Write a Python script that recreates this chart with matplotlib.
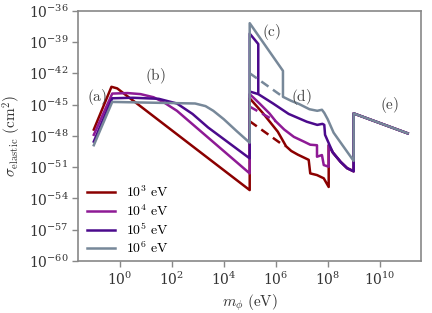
import numpy as np
import matplotlib
matplotlib.use("Agg")
import matplotlib.pyplot as plt

plt.rcParams["mathtext.fontset"] = "cm"
plt.rcParams["font.family"] = "serif"
plt.rcParams["font.serif"] = ["DejaVu Serif"]

# curves, as log10(m_phi / eV) and log10(sigma / cm^2)
labels = [r"$10^{3}\ \mathrm{eV}$", r"$10^{4}\ \mathrm{eV}$",
          r"$10^{5}\ \mathrm{eV}$", r"$10^{6}\ \mathrm{eV}$"]
colors = ["#8b0000", "#8e1a95", "#4b0a8c", "#778899"]

# shared tail above 10^8 eV (hidden under the curves drawn later)
tail_logm = [8.2, 8.5, 8.75, 9.0, 9.0, 11.08]
tail_logs = [-49.6, -50.5, -51.1, -51.4, -45.85, -47.76]

red_logm = [-1.0, -0.32, -0.1, 5.0, 5.0, 5.5, 6.08, 6.4, 6.6, 6.85, 7.27, 7.33,
            7.59, 7.85, 8.04, 8.04]
red_logs = [-47.4, -43.3, -43.45, -53.2, -44.4, -45.8, -47.6, -49.0, -49.45,
            -49.8, -50.3, -51.6, -51.76, -52.07, -52.9, -48.9]

mag_logm = [-1.0, -0.29, 0.3, 0.8, 1.3, 1.7, 2.2, 5.0, 5.0, 5.4, 5.76, 6.0,
            6.33, 6.7, 7.1, 7.33, 7.59, 7.59, 7.78, 7.85, 8.04, 8.04]
mag_logs = [-47.9, -43.95, -43.9, -44.0, -44.3, -44.8, -45.6, -51.6, -44.0,
            -44.95, -45.85, -46.6, -47.4, -48.1, -48.57, -48.85, -48.9, -50.0,
            -49.84, -50.8, -50.96, -48.9]

pur_logm = [-1.0, -0.29, 0.5, 1.5, 2.2, 2.8, 3.4, 5.0, 5.0, 5.33, 5.33, 5.9,
            6.5, 7.2, 7.6, 7.8, 7.87, 7.9]
pur_logs = [-48.55, -44.4, -44.35, -44.45, -44.9, -45.9, -47.2, -50.16, -38.2,
            -39.2, -44.0, -44.9, -45.9, -46.65, -46.95, -46.85, -46.95, -47.9]

gray_logm = [-1.0, -0.29, 2.9, 3.3, 3.6, 4.0, 4.5, 5.0, 5.0, 6.28, 6.28, 6.6,
             6.9, 7.3, 7.6, 7.78, 7.87, 8.0, 8.23, 8.6, 9.0, 9.0, 11.08]
gray_logs = [-48.9, -44.75, -44.9, -45.15, -45.6, -46.4, -47.55, -48.66, -37.2,
             -41.77, -44.26, -44.65, -44.95, -45.45, -45.6, -45.5, -45.8, -46.4,
             -47.7, -49.0, -50.4, -45.85, -47.76]

# dashed pieces just above 10^5 eV
red_dash_logm = [5.0, 6.35]
red_dash_logs = [-46.6, -49.0]
mag_dash_logm = [5.0, 6.0]
mag_dash_logs = [-45.2, -46.6]
pur_dash_logm = [5.0, 5.33]
pur_dash_logs = [-43.75, -44.0]
gray_dash_logm = [5.0, 6.28]
gray_dash_logs = [-42.0, -44.26]

# region labels
region_text = ["(a)", "(b)", "(c)", "(d)", "(e)"]
region_logm = [-0.87, 1.37, 5.85, 7.0, 10.37]
region_logs = [-44.3, -42.3, -38.05, -44.3, -45.05]

solid = [(red_logm + tail_logm, red_logs + tail_logs),
         (mag_logm + tail_logm, mag_logs + tail_logs),
         (pur_logm + tail_logm, pur_logs + tail_logs),
         (gray_logm, gray_logs)]
dashed = [(red_dash_logm, red_dash_logs), (mag_dash_logm, mag_dash_logs),
          (pur_dash_logm, pur_dash_logs), (gray_dash_logm, gray_dash_logs)]

fig = plt.figure(figsize=(4.32, 3.13), dpi=100)
ax = fig.add_axes([0.181, 0.166, 0.794, 0.800])

for (lm, ls), (dm, ds), c, lab in zip(solid, dashed, colors, labels):
    ax.plot(10 ** np.array(lm), 10 ** np.array(ls), color=c, lw=1.8, label=lab)
    ax.plot(10 ** np.array(dm), 10 ** np.array(ds), color=c, lw=1.8,
            dashes=(3.5, 2.2))

ax.set_xscale("log")
ax.set_yscale("log")
ax.set_xlim(10 ** -1.6, 10 ** 11.6)
ax.set_ylim(1e-60, 1e-36)
ax.set_xticks([10.0 ** k for k in range(0, 11, 2)])
ax.set_yticks([10.0 ** k for k in range(-60, -35, 3)])
ax.minorticks_off()

for sp in ax.spines.values():
    sp.set_color("#888888")
    sp.set_linewidth(1.2)
ax.tick_params(direction="out", length=4, width=1, color="#888888",
               labelsize=10, labelcolor="#333333", pad=3)

ax.set_xlabel(r"$m_\phi\ (\mathrm{eV})$", fontsize=11, color="#333333",
              labelpad=3)
ax.set_ylabel(r"$\sigma_{\mathrm{elastic}}\ (\mathrm{cm}^2)$", fontsize=11,
              color="#333333", labelpad=4)

for txt, lm, ls in zip(region_text, region_logm, region_logs):
    ax.text(10 ** lm, 10 ** ls, r"$\mathrm{" + txt + "}$", fontsize=11,
            color="#444444", ha="center", va="center")

ax.legend(loc="lower left", bbox_to_anchor=(-0.01, -0.03), frameon=False,
          fontsize=10, handlelength=2.0, labelspacing=0.2)

fig.savefig("out.png", dpi=100)
